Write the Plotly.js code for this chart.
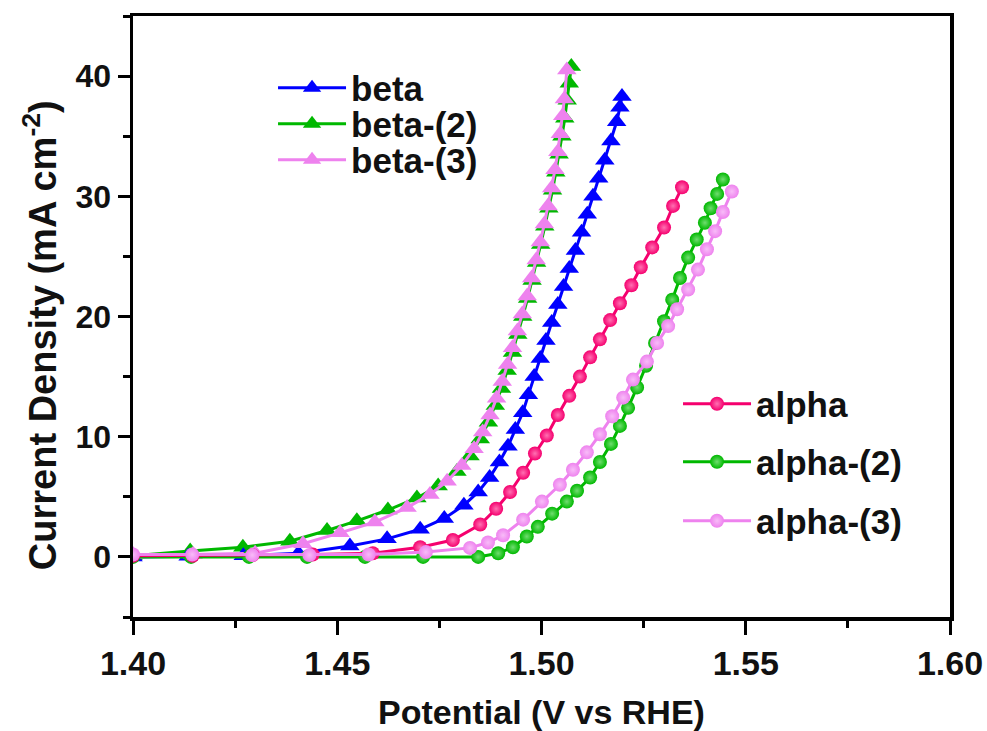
<!DOCTYPE html>
<html>
<head>
<meta charset="utf-8">
<script src="https://cdn.plot.ly/plotly-3.0.1.min.js"></script>
<style>html,body{margin:0;padding:0;background:#fff;}#chart{width:987px;height:731px;}</style>
</head>
<body>
<div id="chart"></div>
<script>
// ---- data (Potential V vs RHE, Current density mA cm^-2) ----
var betaV  = [1.4000,1.4135,1.4270,1.4405,1.4531,1.4622,1.4703,1.4762,1.4810,1.4845,1.4873,1.4897,1.4918,1.4936,1.4954,1.4968,1.4982,1.4997,1.5011,1.5025,1.5040,1.5054,1.5068,1.5083,1.5098,1.5112,1.5126,1.5140,1.5155,1.5170,1.5184,1.5192,1.5197];
var betaJ  = [0.0,0.05,0.1,0.3,0.9,1.5,2.3,3.2,4.3,5.4,6.6,7.9,9.2,10.6,12.0,13.5,15.0,16.5,18.0,19.5,21.0,22.5,24.0,25.5,27.0,28.5,30.0,31.5,33.0,34.6,36.2,37.4,38.3];

var beta2V = [1.4000,1.4140,1.4269,1.4384,1.4475,1.4548,1.4624,1.4695,1.4747,1.4793,1.4825,1.4850,1.4870,1.4887,1.4902,1.4916,1.4929,1.4942,1.4954,1.4966,1.4977,1.4988,1.4998,1.5008,1.5018,1.5027,1.5035,1.5043,1.5050,1.5057,1.5063,1.5068,1.5073];
var beta2J = [0.1,0.5,0.8,1.3,2.2,3.0,3.9,4.9,5.9,7.1,8.4,9.8,11.2,12.6,14.0,15.5,17.0,18.5,20.0,21.5,23.0,24.5,26.0,27.5,29.0,30.5,32.0,33.5,35.0,36.5,38.0,39.4,40.8];

var beta3V = [1.4000,1.4147,1.4299,1.4416,1.4507,1.4592,1.4671,1.4727,1.4769,1.4805,1.4835,1.4856,1.4874,1.4890,1.4904,1.4917,1.4929,1.4941,1.4953,1.4965,1.4976,1.4987,1.4997,1.5007,1.5016,1.5025,1.5033,1.5040,1.5046,1.5052,1.5056,1.5062];
var beta3J = [0.2,0.2,0.3,1.1,2.0,2.9,4.1,5.2,6.3,7.6,9.0,10.4,11.8,13.2,14.6,16.0,17.4,18.8,20.2,21.7,23.2,24.7,26.2,27.7,29.2,30.7,32.2,33.7,35.2,36.7,38.1,40.5];

var alphaV = [1.4000,1.4146,1.4293,1.4440,1.4587,1.4703,1.4783,1.4850,1.4889,1.4923,1.4955,1.4984,1.5013,1.5040,1.5068,1.5094,1.5119,1.5143,1.5168,1.5192,1.5220,1.5243,1.5271,1.5300,1.5322,1.5344];
var alphaJ = [0.1,0.1,0.15,0.2,0.3,0.8,1.4,2.7,4.0,5.4,7.0,8.6,10.1,11.8,13.4,15.0,16.6,18.1,19.7,21.1,22.6,24.1,25.75,27.4,29.2,30.75];

var alpha2V = [1.4000,1.4142,1.4284,1.4426,1.4568,1.4710,1.4845,1.4894,1.4930,1.4964,1.4991,1.5026,1.5062,1.5087,1.5119,1.5143,1.5170,1.5192,1.5212,1.5234,1.5256,1.5278,1.5300,1.5320,1.5339,1.5359,1.5380,1.5400,1.5414,1.5430,1.5444];
var alpha2J = [0.0,0.0,0.0,0.0,0.0,0.0,0.0,0.3,0.8,1.7,2.5,3.6,4.6,5.5,6.6,7.9,9.4,10.9,12.4,14.1,15.9,17.8,19.6,21.4,23.2,24.9,26.4,27.8,29.0,30.2,31.4];

var alpha3V = [1.4000,1.4145,1.4292,1.4432,1.4577,1.4717,1.4825,1.4869,1.4906,1.4955,1.5001,1.5045,1.5077,1.5111,1.5143,1.5173,1.5200,1.5224,1.5258,1.5283,1.5310,1.5332,1.5359,1.5383,1.5405,1.5425,1.5444,1.5466];
var alpha3J = [0.2,0.2,0.15,0.15,0.2,0.4,0.75,1.2,1.8,3.1,4.6,6.0,7.25,8.7,10.2,11.7,13.25,14.75,16.25,17.8,19.2,20.6,22.25,23.9,25.6,27.1,28.7,30.4];

var seriesNames = ['beta','beta-(2)','beta-(3)','alpha','alpha-(2)','alpha-(3)'];
var xTickVals = [1.40,1.45,1.50,1.55,1.60];
var yTickVals = [0,10,20,30,40];
var xTitle = 'Potential (V vs RHE)';
var yTitle = 'Current Density (mA cm<sup>-2</sup>)';

// ---- styling ----
var FONT = 'Arial, "Liberation Sans", sans-serif';
var BLUE = '#0000FF', GREEN = '#00B800', VIOLET = '#EE82EE', PINK = '#F5006E';

function tri(x, y, name, color, leg) {
  return {x: x, y: y, name: name, type: 'scatter', mode: 'lines+markers', legend: leg,
    line: {color: color, width: 3},
    marker: {symbol: 'triangle-up', size: 17, color: color, line: {width: 0}}};
}
function ball(x, y, name, color, hi, leg) {
  return {x: x, y: y, name: name, type: 'scatter', mode: 'lines+markers', legend: leg,
    line: {color: color, width: 3},
    marker: {symbol: 'circle', size: 14, color: color, line: {width: 0},
             gradient: {type: 'radial', color: hi}}};
}

var traces = [
  tri(beta2V, beta2J, seriesNames[1], GREEN, 'legend2'),
  tri(betaV, betaJ, seriesNames[0], BLUE, 'legend'),
  tri(beta3V, beta3J, seriesNames[2], VIOLET, 'legend3'),
  ball(alpha2V, alpha2J, seriesNames[4], GREEN, '#70DD70', 'legend5'),
  ball(alphaV, alphaJ, seriesNames[3], PINK, '#FF70B2', 'legend4'),
  ball(alpha3V, alpha3J, seriesNames[5], VIOLET, '#F8BCF8', 'legend6')
];

function leg(x, y) {
  return {x: x, y: y, xanchor: 'left', yanchor: 'middle', bgcolor: 'rgba(0,0,0,0)',
    borderwidth: 0, itemwidth: 68, font: {family: FONT, size: 35, color: '#111', weight: 700}};
}

var axisCommon = {
  showgrid: false, zeroline: false, showline: true, linecolor: '#000', linewidth: 3.5,
  mirror: true, ticks: 'outside', tickcolor: '#000', tickwidth: 3
};

var layout = {
  width: 987, height: 731,
  margin: {l: 133, r: 37, t: 16, b: 114},
  paper_bgcolor: '#fff', plot_bgcolor: '#fff',
  showlegend: true,
  xaxis: Object.assign({}, axisCommon, {
    range: [1.40, 1.60], tickvals: xTickVals, tickformat: '.2f', ticklen: 14,
    tickfont: {family: FONT, size: 34, color: '#111', weight: 700},
    minor: {dtick: 0.025, tick0: 1.40, ticks: 'outside', ticklen: 7, tickwidth: 3, tickcolor: '#000'},
    title: {text: xTitle, standoff: 20, font: {family: FONT, size: 34, color: '#111', weight: 700}}
  }),
  yaxis: Object.assign({}, axisCommon, {
    range: [-5, 45], tickvals: yTickVals, ticklen: 12,
    tickfont: {family: FONT, size: 32, color: '#111', weight: 700},
    minor: {dtick: 5, tick0: -5, ticks: 'outside', ticklen: 7, tickwidth: 3, tickcolor: '#000'}
  }),
  annotations: [{
    text: yTitle, xref: 'paper', yref: 'paper', x: -0.1138, y: 0.469,
    xanchor: 'center', yanchor: 'middle', textangle: -90, showarrow: false,
    font: {family: FONT, size: 38, color: '#111', weight: 700}
  }],
  legend:  leg(0.1714, 0.8802),
  legend2: leg(0.1714, 0.8203),
  legend3: leg(0.1714, 0.7604),
  legend4: leg(0.6671, 0.3544),
  legend5: leg(0.6671, 0.2579),
  legend6: leg(0.6671, 0.1597)
};

Plotly.newPlot('chart', traces, layout, {displayModeBar: false, staticPlot: true});
</script>
</body>
</html>
